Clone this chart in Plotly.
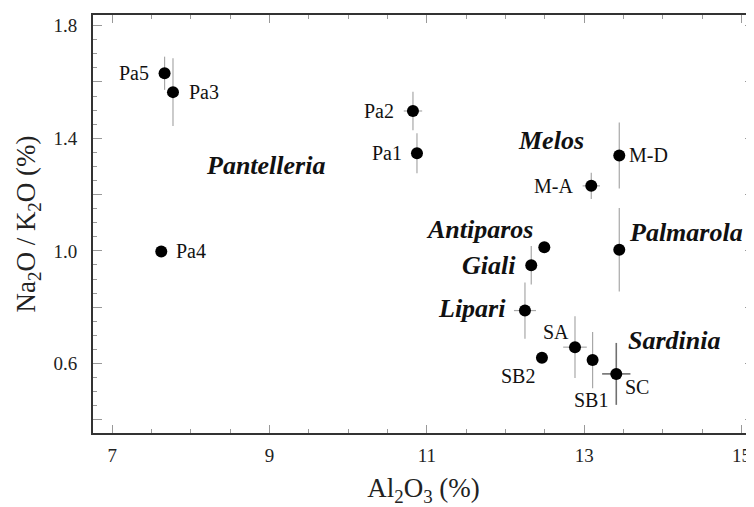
import plotly.graph_objects as go

# ---- data ----
samples = ["Pa5", "Pa3", "Pa4", "Pa2", "Pa1", "M-A", "M-D", "", "", "", "", "SA", "SB2", "SB1", "SC"]
al2o3 = [7.665, 7.772, 7.623, 10.823, 10.874, 13.09, 13.446, 12.493, 13.446, 12.327, 12.247, 12.883, 12.463, 13.107, 13.408]
na_k = [1.631, 1.564, 0.998, 1.497, 1.347, 1.231, 1.339, 1.013, 1.004, 0.949, 0.788, 0.658, 0.620, 0.612, 0.563]
err_y = [0.059, 0.12, 0.0, 0.068, 0.071, 0.047, 0.117, 0.0, 0.148, 0.068, 0.10, 0.11, 0.0, 0.10, 0.11]
err_x = [0.0, 0.0, 0.0, 0.117, 0.0, 0.11, 0.0, 0.0, 0.0, 0.0, 0.14, 0.15, 0.0, 0.0, 0.18]

# label placement: (xanchor, xshift, yshift)
label_pos = [("right", -14, 0), ("left", 14, 0), ("left", 13, 0), ("right", -17, 0), ("right", -13, 0),
             ("right", -16, 0), ("left", 8, 0), None, None, None, None,
             ("center", -19, 15), ("center", -24, -18), ("center", -2, -40), ("center", 21, -13)]

groups = ["Pantelleria", "Melos", "Antiparos", "Palmarola", "Giali", "Lipari", "Sardinia"]
group_x = [8.945, 12.582, 11.679, 14.292, 11.793, 11.577, 14.142]
group_y = [1.305, 1.393, 1.075, 1.067, 0.947, 0.794, 0.680]

x_ticks = [7, 9, 11, 13, 15]
y_label_ticks = [0.6, 1.0, 1.4, 1.8]
y_plain_ticks = [0.4, 0.8, 1.2, 1.6]
y_all_ticks = [0.4, 0.6, 0.8, 1.0, 1.2, 1.4, 1.6, 1.8]

FONT = "Liberation Serif, Times New Roman, serif"
XR = [6.755, 15.159]
YR = [0.353, 1.838]

fig = go.Figure()
n = len(samples)
main_idx = [i for i in range(n) if samples[i] != "SC"]
sc_idx = [i for i in range(n) if samples[i] == "SC"]

for idx, col, w in [(main_idx, "#a8a8a8", 1.2), (sc_idx, "#707070", 1.6)]:
    fig.add_trace(go.Scatter(
        x=[al2o3[i] for i in idx], y=[na_k[i] for i in idx], mode="markers",
        marker=dict(color="black", size=12),
        error_y=dict(type="data", array=[err_y[i] for i in idx], color=col, thickness=w, width=0),
        error_x=dict(type="data", array=[err_x[i] for i in idx], color=col, thickness=w, width=0),
        showlegend=False, hoverinfo="skip"))

# invisible traces carrying the extra tick-only axes
for ax in ["y2", "y3"]:
    fig.add_trace(go.Scatter(x=al2o3, y=na_k, yaxis=ax, mode="markers",
                             marker=dict(opacity=0), showlegend=False, hoverinfo="skip"))

for i in range(n):
    if label_pos[i] is None:
        continue
    xa, xs, ys = label_pos[i]
    fig.add_annotation(x=al2o3[i], y=na_k[i], text=samples[i], showarrow=False,
                       xanchor=xa, yanchor="middle", xshift=xs, yshift=ys,
                       font=dict(family=FONT, size=20, color="#111"))

for g, gx, gy in zip(groups, group_x, group_y):
    fig.add_annotation(x=gx, y=gy, text="<b><i>" + g + "</i></b>", showarrow=False,
                       xanchor="center", yanchor="middle",
                       font=dict(family=FONT, size=26, color="#111"))

minor_y = dict(dtick=0.05, tick0=0.4, ticks="inside", ticklen=4, tickcolor="#999")

# page body has an 8px margin: figure is offset by (8, 8) in the window
fig.update_layout(
    width=746, height=499,
    margin=dict(l=85, r=0, t=7, b=74),
    paper_bgcolor="white", plot_bgcolor="white",
    font=dict(family=FONT, size=19, color="#222"),
    xaxis=dict(range=XR, tickvals=x_ticks, ticks="inside", ticklen=8, tickcolor="#999", tickwidth=1,
               showline=True, linecolor="#333", linewidth=2, mirror="ticks",
               showgrid=False, zeroline=False, automargin=False, ticklabelstandoff=4,
               minor=dict(dtick=0.5, tick0=7, ticks="inside", ticklen=4, tickcolor="#999"),
               title=dict(text="Al<sub>2</sub>O<sub>3</sub> (%)", font=dict(family=FONT, size=27), standoff=15),
               tickfont=dict(family=FONT, size=19)),
    yaxis=dict(range=YR, tickvals=y_label_ticks, tickformat=".1f", ticks="inside", ticklen=9,
               tickcolor="#999", tickwidth=1,
               showline=True, linecolor="#333", linewidth=2, mirror=False,
               showgrid=False, zeroline=False, automargin=False, ticklabelstandoff=10,
               minor=minor_y,
               title=dict(text="Na<sub>2</sub>O / K<sub>2</sub>O (%)", font=dict(family=FONT, size=27), standoff=10),
               tickfont=dict(family=FONT, size=19)),
    yaxis2=dict(range=YR, overlaying="y", side="right", tickvals=y_all_ticks, ticks="inside", ticklen=9,
                tickcolor="#999", showticklabels=False, showline=False, showgrid=False, zeroline=False,
                automargin=False, minor=minor_y),
    yaxis3=dict(range=YR, overlaying="y", side="left", tickvals=y_plain_ticks, ticks="inside", ticklen=9,
                tickcolor="#999", showticklabels=False, showline=False, showgrid=False, zeroline=False,
                automargin=False),
)

fig.write_html("out.html")
